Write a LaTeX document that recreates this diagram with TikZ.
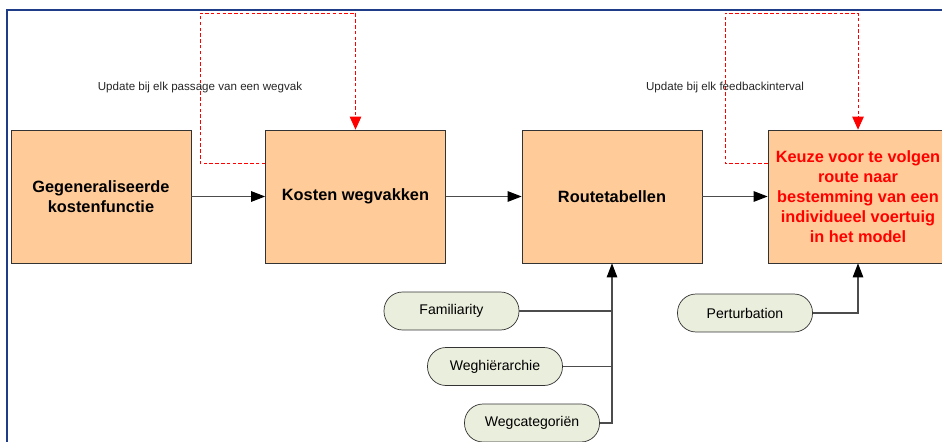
\documentclass[tikz,border=0pt]{standalone}
\usepackage{fontspec}
\setmainfont{Liberation Sans}
\usepackage{xcolor}
\usetikzlibrary{arrows.meta,positioning}

\definecolor{peach}{HTML}{FFCC99}
\definecolor{sage}{HTML}{EAEEDC}
\definecolor{framblue}{HTML}{1F3C88}

\begin{document}
\begin{tikzpicture}[x=0.02cm, y=-0.02cm,
    stage/.style={draw=black!80, fill=peach, minimum width=3.6cm, minimum height=2.66cm,
                  align=center, font=\fontsize{9.3}{11.3}\selectfont\bfseries},
    factor/.style={draw=black!80, fill=sage, rounded corners=0.37cm, minimum width=2.7cm,
                   minimum height=0.76cm, font=\fontsize{8}{9}\selectfont},
    flow/.style={-{Triangle[length=2.8mm, width=2.1mm, black]}, draw=black!70, line width=0.6pt},
    feeder/.style={draw=black!70, line width=0.6pt},
    feedback/.style={-{Triangle[length=2.6mm, width=2.3mm]}, red, dash pattern=on 2pt off 1.3pt,
                     line width=0.5pt},
    note/.style={font=\fontsize{6.6}{8}\selectfont, text=black!85}]
    \useasboundingbox (0,0) rectangle (942,442);
    \clip (0,0) rectangle (942,442);
    \draw[framblue, line width=1.1pt] (7,10) rectangle (980,480);

    \node[stage] (kostfunctie) at (101,196.5) {Gegeneraliseerde\\kostenfunctie};
    \node[stage] (wegvakken) at (355.5,196.5) {Kosten wegvakken};
    \node[stage] (routetab) at (612,196.5) {Routetabellen};
    \node[stage, text=red] (keuze) at (858,196.5) {Keuze voor te volgen\\route naar\\bestemming van een\\individueel voertuig\\in het model};

    \node[factor] (familiarity) at (451.5,311) {Familiarity};
    \node[factor] (hierarchie) at (495,366.5) {Weghiërarchie};
    \node[factor] (categorie) at (532,423) {Wegcategoriën};
    \node[factor] (perturbation) at (745,313) {Perturbation};

    \coordinate (lus1) at (200,163);
    \coordinate (lus1top) at (200,13);
    \coordinate (lus2) at (725,163);
    \coordinate (lus2top) at (725,13);

    \draw[flow] (kostfunctie) -- (wegvakken);
    \draw[flow] (wegvakken) -- (routetab);
    \draw[flow] (routetab) -- (keuze);

    \draw[feedback] (wegvakken.west |- lus1) -| (lus1top)
        node[note, pos=0.75] {Update bij elk passage van een wegvak} -| (wegvakken.north);
    \draw[feedback] (keuze.west |- lus2) -| (lus2top)
        node[note, pos=0.75] {Update bij elk feedbackinterval} -| (keuze.north);

    \draw[feeder] (familiarity.east) -- (familiarity.east -| routetab.south);
    \draw[feeder] (hierarchie.east) -- (hierarchie.east -| routetab.south);
    \draw[flow] (categorie.east) -| (routetab.south);
    \draw[flow] (perturbation.east) -| (keuze.south);
\end{tikzpicture}
\end{document}
